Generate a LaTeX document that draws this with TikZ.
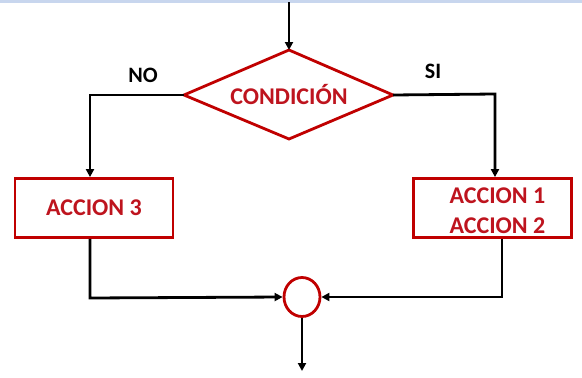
\documentclass[tikz,border=0pt]{standalone}
\usepackage{fontspec}
\setmainfont{Carlito}
\usetikzlibrary{shapes.geometric,arrows.meta}
\definecolor{boxred}{RGB}{192,0,0}
\definecolor{txtred}{RGB}{190,20,30}
\definecolor{topband}{RGB}{200,214,238}
\begin{document}
\begin{tikzpicture}[x=1pt,y=-1pt,
  flowline/.style={line width=2.8pt,black,-{Triangle[length=8pt,width=8pt]}},
  actionbox/.style={draw=boxred,line width=2.8pt,fill=white,minimum width=158pt,minimum height=59pt,inner sep=0pt,
    font=\bfseries\fontsize{24}{30}\selectfont,text=txtred,align=center},
  branchlabel/.style={font=\bfseries\fontsize{22}{24}\selectfont,text=black}]
  \useasboundingbox (0,0) rectangle (582,378);
  \fill[topband] (0,0) rectangle (582,2.5);
  % decision
  \draw[boxred,line width=2.8pt,fill=white,line join=miter]
    (289,50) coordinate (dtop) -- (393,95) coordinate (dright) -- (289,139) coordinate (dbot) -- (184,95) coordinate (dleft) -- cycle;
  \node[font=\bfseries\fontsize{24}{28}\selectfont,text=txtred] (cond) at (289,95) {CONDICIÓN};
  % actions
  \node[actionbox] (a3) at (94,208) {ACCION 3};
  \node[actionbox] (a12) at (492.5,208) {\rule{0pt}{22pt}\hspace*{10pt}ACCION 1\\\hspace*{10pt}ACCION 2};
  % junction
  \node[draw=boxred,line width=2.8pt,ellipse,minimum width=36pt,minimum height=39pt,inner sep=0pt,fill=white] (join) at (302,297) {};
  % entry and exit
  \coordinate (entry) at (289,2);
  \coordinate (exit) at (302,371);
  \coordinate (lcorner) at (90,95);
  \coordinate (rcorner) at (495,94);
  \coordinate (lbot) at (90,298);
  \coordinate (rbot) at (502,297);
  \draw[flowline] (entry) -- (dtop);
  \draw[flowline] (dleft) -- (lcorner) -- (a3.north -| lcorner);
  \draw[flowline] (dright) -- (rcorner) -- (a12.north -| rcorner);
  \draw[flowline] (a3.south -| lbot) -- (lbot) -- (join.west);
  \draw[flowline] (a12.south -| rbot) -- (rbot) -- (join.east);
  \draw[flowline] (join.south) -- (exit);
  \node[branchlabel] (no) at (143,75) {NO};
  \node[branchlabel] (si) at (433,71) {SI};
\end{tikzpicture}
\end{document}
